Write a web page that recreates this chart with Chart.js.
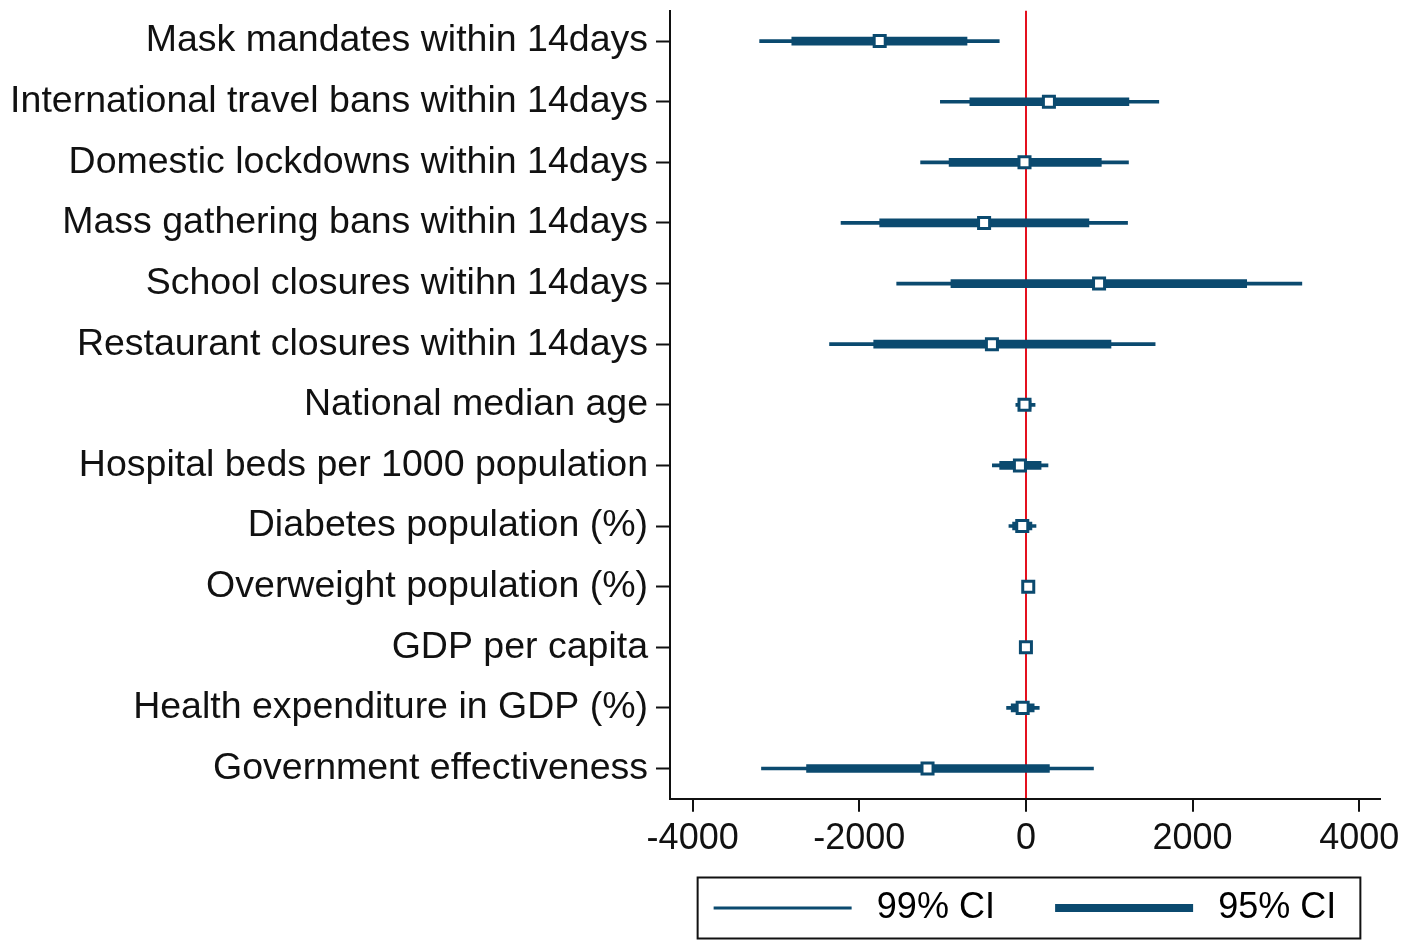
<!DOCTYPE HTML>
<html>
<head>
    <title>Coefficient plot</title>
    <meta charset="utf-8" />
    <script src="https://cdn.jsdelivr.net/npm/chart.js"></script>
    <style>
        body { margin: 0; background: #fff; }
        #wrap { width: 1418px; height: 940px; position: relative; }
    </style>
</head>
<body>
    <div id="wrap">
        <canvas id="graficoCoef"></canvas>
    </div>

    <script>
        // Datos
        var variables = [
            'Mask mandates within 14days',
            'International travel bans within 14days',
            'Domestic lockdowns within 14days',
            'Mass gathering bans within 14days',
            'School closures witihn 14days',
            'Restaurant closures within 14days',
            'National median age',
            'Hospital beds per 1000 population',
            'Diabetes population (%)',
            'Overweight population (%)',
            'GDP per capita',
            'Health expenditure in GDP (%)',
            'Government effectiveness'
        ];
        var estimate = [-1755, 276, -17, -502, 878, -408, -17, -72, -44, 28, 0, -39, -1181];
        var lo95 = [-2810, -673, -922, -1755, -900, -1827, -75, -315, -160, -20, -8, -177, -2633];
        var hi95 = [-707, 1236, 905, 756, 2650, 1021, 60, 182, 72, 70, 8, 99, 282];
        var lo99 = [-3196, -1027, -1264, -2219, -1551, -2357, -121, -403, -204, -35, -12, -232, -3174];
        var hi99 = [-320, 1595, 1231, 1220, 3312, 1551, 110, 265, 121, 85, 12, 160, 811];
        var xTicks = [-4000, -2000, 0, 2000, 4000];

        var navy = '#0b4a6f';
        var fuente = "'Liberation Sans', Arial, sans-serif";

        // Recuadro alrededor de la leyenda
        var bordeLeyenda = {
            id: 'bordeLeyenda',
            afterDraw: function (chart) {
                var hb = chart.legend.legendHitBoxes;
                if (!hb || !hb.length) return;
                var first = hb[0], last = hb[hb.length - 1];
                var cy = first.top + first.height / 2;
                var ctx = chart.ctx;
                ctx.save();
                ctx.strokeStyle = '#111';
                ctx.lineWidth = 2;
                var x0 = first.left - 16;
                var x1 = last.left + last.width + 24;
                ctx.strokeRect(x0, cy - 30.5, x1 - x0, 61);
                ctx.restore();
            }
        };

        var ctx = document.getElementById('graficoCoef').getContext('2d');
        var myChart = new Chart(ctx, {
            type: 'bar',
            data: {
                labels: variables,
                datasets: [
                    {
                        type: 'line',
                        label: 'Estimate',
                        data: estimate,
                        showLine: false,
                        pointStyle: 'rect',
                        pointRadius: 7.8,
                        pointHoverRadius: 7.8,
                        pointBackgroundColor: '#fff',
                        pointBorderColor: navy,
                        pointBorderWidth: 3
                    },
                    {
                        label: '95% CI',
                        data: lo95.map(function (v, i) { return [v, hi95[i]]; }),
                        backgroundColor: navy,
                        barThickness: 8,
                        grouped: false,
                        borderSkipped: false
                    },
                    {
                        label: '99% CI',
                        data: lo99.map(function (v, i) { return [v, hi99[i]]; }),
                        backgroundColor: navy,
                        barThickness: 3,
                        grouped: false,
                        borderSkipped: false
                    }
                ]
            },
            options: {
                indexAxis: 'y',
                responsive: true,
                maintainAspectRatio: false,
                animation: false,
                layout: {
                    padding: { top: 10, right: 38, left: 0, bottom: 4 }
                },
                plugins: {
                    tooltip: { enabled: false },
                    legend: {
                        position: 'bottom',
                        fullSize: false,
                        onClick: null,
                        labels: {
                            usePointStyle: true,
                            pointStyleWidth: 138,
                            padding: 23,
                            color: '#111',
                            font: { family: fuente, size: 36 },
                            generateLabels: function () {
                                // espacios para imitar la separacion de la leyenda original
                                return [
                                    { text: '\u200999% CI   \u2009', strokeStyle: navy, fillStyle: navy, lineWidth: 3, pointStyle: 'line', datasetIndex: 2 },
                                    { text: '\u200995% CI', strokeStyle: navy, fillStyle: navy, lineWidth: 8, pointStyle: 'line', datasetIndex: 1 }
                                ];
                            }
                        }
                    }
                },
                scales: {
                    x: {
                        type: 'linear',
                        min: -4272,
                        max: 4250,
                        afterBuildTicks: function (scale) {
                            scale.ticks = xTicks.map(function (v) { return { value: v }; });
                        },
                        border: { display: true, color: '#111', width: 2 },
                        grid: {
                            drawOnChartArea: true,
                            color: function (c) { return (c.tick && c.tick.value === 0) ? '#e4101e' : 'rgba(0,0,0,0)'; },
                            lineWidth: 2,
                            tickColor: '#111',
                            tickWidth: 2,
                            tickLength: 13
                        },
                        ticks: {
                            color: '#111',
                            padding: 6,
                            maxRotation: 0,
                            font: { family: fuente, size: 36 },
                            callback: function (v) { return String(v); }
                        }
                    },
                    y: {
                        type: 'category',
                        offset: true,
                        afterFit: function (scale) {
                            scale.width = 670;
                            scale.paddingTop = 0;
                            scale.paddingBottom = 0;
                        },
                        border: { display: true, color: '#111', width: 2 },
                        grid: {
                            offset: false,
                            drawOnChartArea: false,
                            tickColor: '#111',
                            tickWidth: 2,
                            tickLength: 14
                        },
                        ticks: {
                            color: '#111',
                            padding: 8,
                            autoSkip: false,
                            font: { family: fuente, size: 37.5 }
                        }
                    }
                }
            },
            plugins: [bordeLeyenda]
        });
    </script>
</body>
</html>
